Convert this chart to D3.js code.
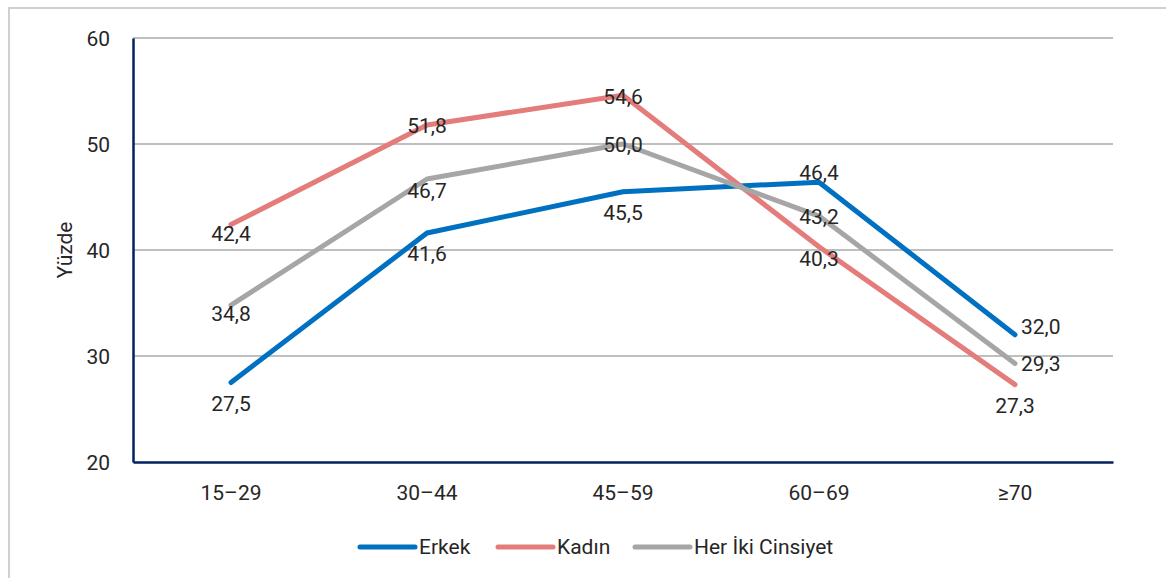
<!DOCTYPE html>
<html>
<head>
<meta charset="utf-8">
<script src="https://cdn.jsdelivr.net/npm/d3@7"></script>
<style>
  body { margin: 0; background: #fff; }
  text { font-family: Roboto, "DejaVu Sans Condensed", sans-serif; fill: #262626; }
</style>
</head>
<body>
<div id="chart"></div>
<script>
// age groups on the x axis
var categories = ["15–29", "30–44", "45–59", "60–69", "≥70"];

// percentages per series
var erkek = [27.5, 41.6, 45.5, 46.4, 32.0];
var kadin = [42.4, 51.8, 54.6, 40.3, 27.3];
var herIki = [34.8, 46.7, 50.0, 43.2, 29.3];

var seriesNames = ["Erkek", "Kadın", "Her İki Cinsiyet"];
var yTicks = [20, 30, 40, 50, 60];

// where each data label sits relative to its point
var labelPos = [
  ["b", "b", "b", "a", "r"],
  ["bn", "c", "c", "bm", "b"],
  ["bn", "bm", "c", "c", "r"]
];

var colors = ["#0070C0", "#E47C7C", "#A6A6A6"];
var fontSize = "21px";

var width = 1166, height = 578;
var margin = {left: 133, right: 53, top: 38, bottom: 116};

var svg = d3.select("#chart").append("svg")
  .attr("width", width)
  .attr("height", height);

// outer frame
svg.append("rect")
  .attr("x", 9).attr("y", 8)
  .attr("width", width).attr("height", height)
  .attr("fill", "none")
  .attr("stroke", "#D0D0D0")
  .attr("stroke-width", 2);

var x = d3.scaleBand()
  .domain(categories)
  .range([margin.left, width - margin.right]);

var y = d3.scaleLinear()
  .domain([20, 60])
  .range([height - margin.bottom, margin.top]);

// gridlines
svg.append("g")
  .selectAll("line")
  .data(yTicks.slice(1))
  .enter().append("line")
  .attr("x1", margin.left).attr("x2", width - margin.right)
  .attr("y1", function(d){ return y(d); })
  .attr("y2", function(d){ return y(d); })
  .attr("stroke", "#BFBFBF")
  .attr("stroke-width", 2);

// y axis
var yAxis = svg.append("g")
  .attr("transform", "translate(" + margin.left + ",0)")
  .call(d3.axisLeft(y).tickValues(yTicks).tickSize(0).tickPadding(23));
yAxis.select(".domain").attr("stroke", "#002060").attr("stroke-width", 2.5);
yAxis.selectAll("text").style("font-size", fontSize).attr("dy", "0.35em");

// x axis
var xAxis = svg.append("g")
  .attr("transform", "translate(0," + (height - margin.bottom) + ")")
  .call(d3.axisBottom(x).tickSize(0).tickPadding(23));
xAxis.select(".domain").attr("stroke", "#002060").attr("stroke-width", 2.5);
xAxis.selectAll("text").style("font-size", fontSize);

// y axis title
svg.append("text")
  .attr("transform", "translate(72," + y(40) + ") rotate(-90)")
  .attr("text-anchor", "middle")
  .style("font-size", fontSize)
  .text("Yüzde");

var line = d3.line()
  .x(function(d, i){ return x(categories[i]) + x.bandwidth() / 2; })
  .y(function(d){ return y(d); });

var allSeries = [erkek, kadin, herIki];

allSeries.forEach(function(vals, s){
  svg.append("path")
    .datum(vals)
    .attr("d", line)
    .attr("fill", "none")
    .attr("stroke", colors[s])
    .attr("stroke-width", 5)
    .attr("stroke-linecap", "round")
    .attr("stroke-linejoin", "round");
});

// data labels on top of the lines
var offsets = {b: [0, 21], bn: [0, 9], bm: [0, 12], a: [0, -10], c: [0, 1], r: [6, -8]};
allSeries.forEach(function(vals, s){
  vals.forEach(function(v, i){
    var pos = labelPos[s][i];
    var off = offsets[pos];
    var dy = off[1];
    if (pos == "r" && s == 2) dy = 0;
    svg.append("text")
      .attr("x", x(categories[i]) + x.bandwidth() / 2 + off[0])
      .attr("y", y(v) + dy)
      .attr("dy", "0.35em")
      .attr("text-anchor", pos == "r" ? "start" : "middle")
      .style("font-size", fontSize)
      .text(d3.format(".1f")(v).replace(".", ","));
  });
});

// legend
var legendX = [360, 498, 635];
seriesNames.forEach(function(name, s){
  var g = svg.append("g").attr("transform", "translate(" + legendX[s] + ",547)");
  g.append("line")
    .attr("x1", 0).attr("x2", 55)
    .attr("stroke", colors[s])
    .attr("stroke-width", 5)
    .attr("stroke-linecap", "round");
  g.append("text")
    .attr("x", 59)
    .attr("dy", "0.35em")
    .style("font-size", fontSize)
    .text(name);
});
</script>
</body>
</html>
